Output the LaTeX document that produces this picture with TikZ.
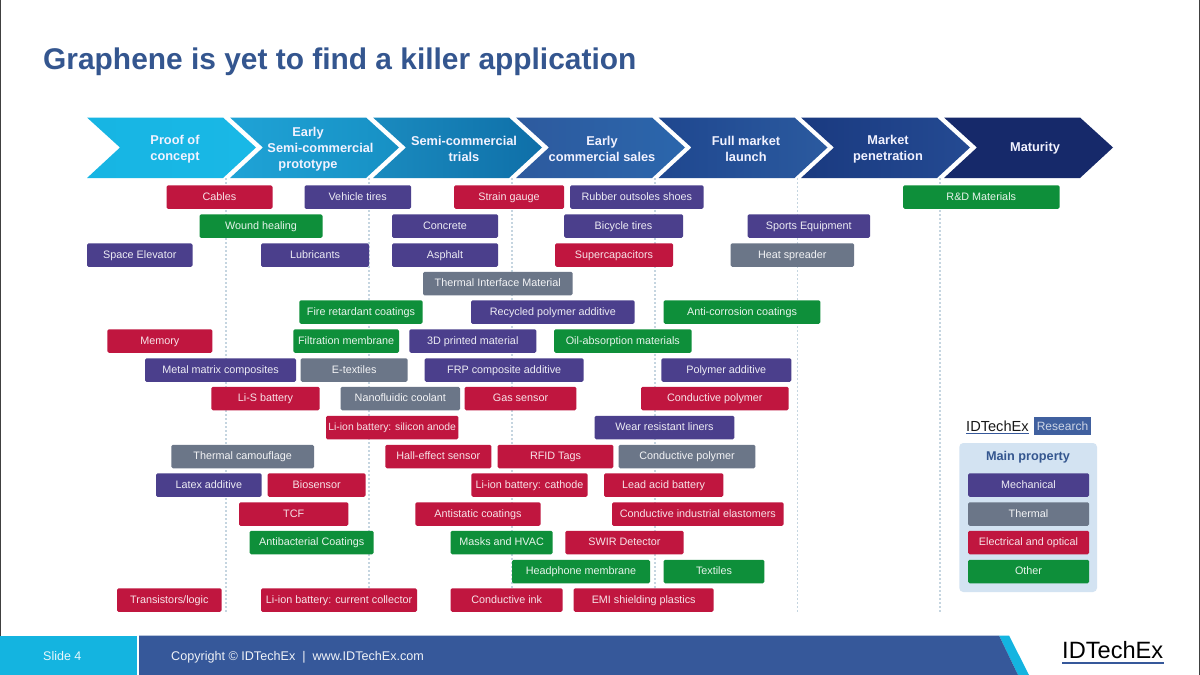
\documentclass[tikz,border=0pt]{standalone}
\usepackage{fontspec}
\setmainfont{Liberation Sans}
\definecolor{mechc}{HTML}{4B3F8C}
\definecolor{thermc}{HTML}{6B7688}
\definecolor{elecc}{HTML}{C0163F}
\definecolor{otherc}{HTML}{0E8F3A}
\definecolor{titlec}{HTML}{34568F}
\definecolor{footblue}{HTML}{36589A}
\definecolor{footcyan}{HTML}{14B4E0}
\definecolor{panelc}{HTML}{D3E3F2}
\definecolor{dotc}{HTML}{C5D5E0}
\newcommand{\fs}[1]{\fontsize{#1}{#1}\selectfont}
\tikzset{
 tag/.style={rounded corners=1.5pt,minimum height=23.5pt,inner sep=0pt,font=\fs{10.8},anchor=center,text height=8pt,text depth=2pt},
 mech/.style={tag,fill=mechc,text=white!90!mechc},
 therm/.style={tag,fill=thermc,text=white!92!thermc},
 elec/.style={tag,fill=elecc,text=white!88!elecc},
 oth/.style={tag,fill=otherc,text=white!90!otherc},
 chevtext/.style={text=white!95!blue,font=\fontsize{12.8}{16}\selectfont\bfseries,align=center,inner sep=0pt},
 guide/.style={dotc,line width=1.6pt,dash pattern=on 1.6pt off 2.4pt},
}
\newcommand{\bx}[6]{%
 \pgfmathsetmacro\cxv{(#3+#4)/2}\pgfmathsetmacro\wv{#4-#3}%
 \node[#2,minimum width=\wv pt] (#1) at (\cxv,#5) {#6};}
\newcommand{\chev}[3]{%
 \shade[left color=#2,right color=#3] (#1,117.5) -- ++(136,0) -- ++(33,30) -- ++(-33,30.5) -- ++(-136,0) -- ++(33,-30.5) -- cycle;}
\begin{document}
\begin{tikzpicture}[x=1pt,y=-1pt]
\useasboundingbox (0,0) rectangle (1200,675);
\fill[white] (0,0) rectangle (1200,675);
\node[anchor=base west,inner sep=0pt,text=titlec,font=\fs{29.9}\bfseries] (title) at (43,69) {Graphene is yet to find a killer application};
% guides
\foreach \gx in {226,369,512,655,797.5,940}{\draw[guide] (\gx,178) -- (\gx,613);}
% chevrons
\definecolor{c1a}{HTML}{17B5E3}\definecolor{c1b}{HTML}{19B8E6}
\definecolor{c2a}{HTML}{1FA3D6}\definecolor{c2b}{HTML}{1790C4}
\definecolor{c3a}{HTML}{1A8BBF}\definecolor{c3b}{HTML}{0F6FA8}
\definecolor{c4a}{HTML}{2D5A9E}\definecolor{c4b}{HTML}{2B66AC}
\definecolor{c5a}{HTML}{1F478F}\definecolor{c5b}{HTML}{2B5A9F}
\definecolor{c6a}{HTML}{1A3A80}\definecolor{c6b}{HTML}{244A92}
\definecolor{c7a}{HTML}{16296A}\definecolor{c7b}{HTML}{16296A}
\chev{87}{c1a}{c1b}\chev{230}{c2a}{c2b}\chev{373}{c3a}{c3b}\chev{516}{c4a}{c4b}\chev{658.5}{c5a}{c5b}\chev{801}{c6a}{c6b}\chev{944}{c7a}{c7b}
\node[chevtext] (s1) at (175,149) {Proof of\\concept};
\node[chevtext] (s2) at (308,149) {Early\\\hspace*{25pt}Semi-commercial\\prototype};
\node[chevtext] (s3) at (464,149) {Semi-commercial\\trials};
\node[chevtext] (s4) at (602,149) {Early\\commercial sales};
\node[chevtext] (s5) at (746,149) {Full market\\launch};
\node[chevtext] (s6) at (888,149) {Market\\penetration};
\node[chevtext] (s7) at (1035,148) {Maturity};
% tags
\bx{a1}{elec}{166.5}{272.5}{197}{Cables}
\bx{a2}{mech}{304.5}{411}{197}{Vehicle tires}
\bx{a3}{elec}{454}{564}{197}{Strain gauge}
\bx{a4}{mech}{570}{703.5}{197}{Rubber outsoles shoes}
\bx{a5}{oth}{903}{1059.5}{197}{R\&D Materials}
\bx{b1}{oth}{199.5}{322.5}{226}{Wound healing}
\bx{b2}{mech}{392}{498}{226}{Concrete}
\bx{b3}{mech}{564}{683}{226}{Bicycle tires}
\bx{b4}{mech}{747.5}{870}{226}{Sports Equipment}
\bx{c1}{mech}{87}{192.5}{255}{Space Elevator}
\bx{c2}{mech}{261}{369}{255}{Lubricants}
\bx{c3}{mech}{392}{498}{255}{Asphalt}
\bx{c4}{elec}{555}{673}{255}{Supercapacitors}
\bx{c5}{therm}{730.5}{854}{255}{Heat spreader}
\bx{d1}{therm}{423}{572.5}{283.5}{Thermal Interface Material}
\bx{e1}{oth}{299.3}{422.7}{312}{Fire retardant coatings}
\bx{e2}{mech}{471}{634.7}{312}{Recycled polymer additive}
\bx{e3}{oth}{663.7}{820.3}{312}{Anti-corrosion coatings}
\bx{f1}{elec}{107.3}{212.3}{341}{Memory}
\bx{f2}{oth}{293.3}{399}{341}{Filtration membrane}
\bx{f3}{mech}{409.3}{536.3}{341}{3D printed material}
\bx{f4}{oth}{554}{691.7}{341}{Oil-absorption materials}
\bx{g1}{mech}{145}{296}{370}{Metal matrix composites}
\bx{g2}{therm}{300.7}{407.7}{370}{E-textiles}
\bx{g3}{mech}{424.7}{583.7}{370}{FRP composite additive}
\bx{g4}{mech}{661.3}{791.3}{370}{Polymer additive}
\bx{h1}{elec}{211.3}{319.7}{398.5}{Li-S battery}
\bx{h2}{therm}{340.7}{460}{398.5}{Nanofluidic coolant}
\bx{h3}{elec}{464.7}{576.3}{398.5}{Gas sensor}
\bx{h4}{elec}{641}{788.7}{398.5}{Conductive polymer}
\bx{i1}{elec}{326}{458.3}{427.5}{\fontsize{10.4}{10.4}\selectfont Li-ion battery: silicon anode}
\bx{i2}{mech}{594.7}{734.3}{427.5}{Wear resistant liners}
\bx{j1}{therm}{171.3}{314}{456.5}{Thermal camouflage}
\bx{j2}{elec}{385.3}{491.3}{456.5}{Hall-effect sensor}
\bx{j3}{elec}{497.7}{613.3}{456.5}{RFID Tags}
\bx{j4}{therm}{618.7}{755.3}{456.5}{Conductive polymer}
\bx{k1}{mech}{156}{261.7}{485}{Latex additive}
\bx{k2}{elec}{267.7}{365.7}{485}{Biosensor}
\bx{k3}{elec}{471.3}{587.7}{485}{Li-ion battery: cathode}
\bx{k4}{elec}{604}{723.3}{485}{Lead acid battery}
\bx{l1}{elec}{239}{348.3}{514}{TCF}
\bx{l2}{elec}{415.3}{540.7}{514}{Antistatic coatings}
\bx{l3}{elec}{612}{783.7}{514}{Conductive industrial elastomers}
\bx{m1}{oth}{249.7}{373.7}{542.5}{Antibacterial Coatings}
\bx{m2}{oth}{450.7}{552.7}{542.5}{Masks and HVAC}
\bx{m3}{elec}{565.3}{683.7}{542.5}{SWIR Detector}
\bx{n1}{oth}{512}{650}{571.5}{Headphone membrane}
\bx{n2}{oth}{663.7}{764.3}{571.5}{Textiles}
\bx{o1}{elec}{117}{221.7}{600}{Transistors/logic}
\bx{o2}{elec}{261}{417}{600}{Li-ion battery: current collector}
\bx{o3}{elec}{450.7}{562.7}{600}{Conductive ink}
\bx{o4}{elec}{573.7}{713.7}{600}{EMI shielding plastics}
% legend
\node[anchor=base west,inner sep=0pt,font=\fs{14.6},text=black!90] (lg) at (966,431) {IDTechEx};
\fill[footblue] (966,433) rectangle (1029,434);
\node[fill=footblue!95!white,text=white!75!footblue,font=\fs{12},minimum width=57pt,minimum height=17.5pt,inner sep=0pt] (res) at (1062.5,426) {Research};
\fill[panelc,rounded corners=4pt] (959.3,443) rectangle (1097,592);
\node[font=\fs{12.7}\bfseries,text=titlec,inner sep=0pt] (mp) at (1028,457) {Main property};
\bx{p1}{mech}{968}{1089}{485}{Mechanical}
\bx{p2}{therm}{968}{1089}{514}{Thermal}
\bx{p3}{elec}{968}{1089}{542.5}{Electrical and optical}
\bx{p4}{oth}{968}{1089}{571.5}{Other}
% footer
\fill[footcyan] (0,635.5) rectangle (137,675);
\fill[footcyan] (999,635.5) -- (1009,635.5) -- (1029,675) -- (1018,675) -- cycle;
\fill[footblue] (139,635.5) -- (999,635.5) -- (1018,675) -- (139,675) -- cycle;
\node[anchor=base west,inner sep=0pt,font=\fs{12.5},text=white!90!footcyan] (sl) at (43,660) {Slide 4};
\node[anchor=base west,inner sep=0pt,font=\fs{12.6},text=white!92!footblue] (cp) at (171,660) {Copyright © IDTechEx~~|~~www.IDTechEx.com};
\node[anchor=base west,inner sep=0pt,font=\fs{23.6},text=black] (logo) at (1062,658) {IDTechEx};
\fill[footblue] (1062,661.5) rectangle (1164,663.5);
\draw[black!75,line width=1.4pt] (0.7,0) -- (0.7,635.5);
\draw[black!75,line width=1pt] (1199.5,0) -- (1199.5,675);
\end{tikzpicture}
\end{document}
